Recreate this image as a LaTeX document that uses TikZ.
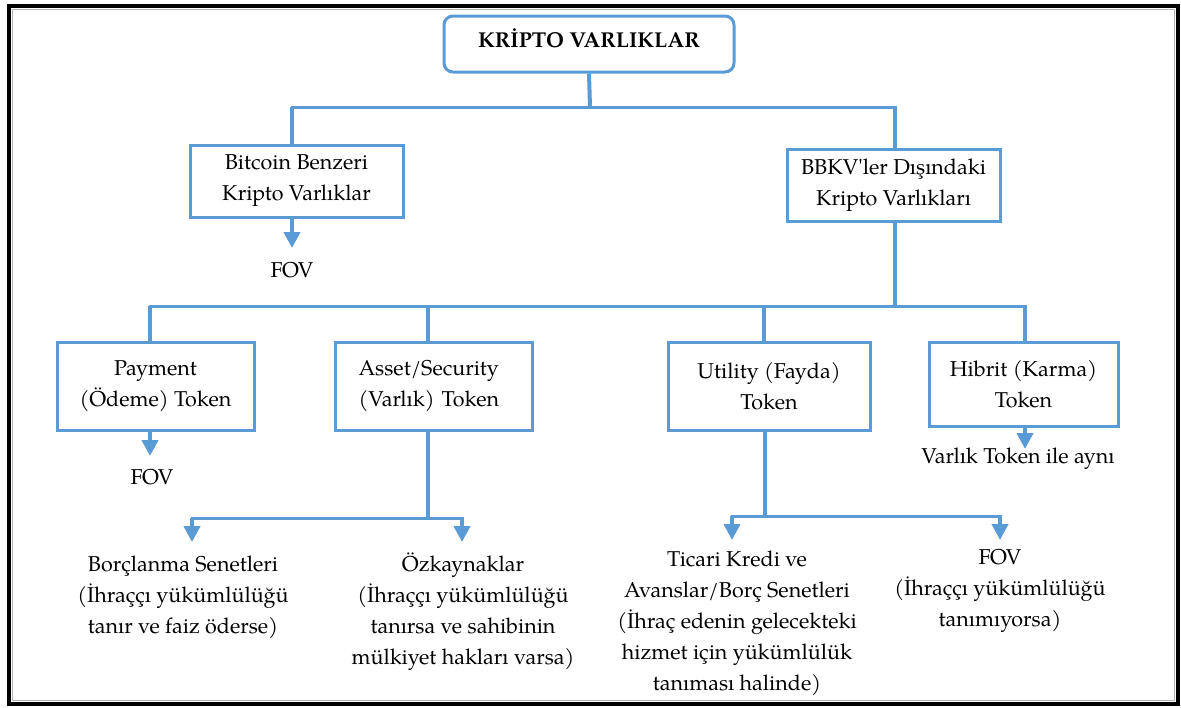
\documentclass[tikz,border=0pt]{standalone}
\usepackage{fontspec}
\setmainfont{TeX Gyre Pagella}
\newfontfamily\plainfont{TeX Gyre Pagella}
\usetikzlibrary{arrows.meta,calc}
\definecolor{boxblue}{HTML}{5B9BD5}
\newcommand\diagfont{\fontsize{21.5}{31}\selectfont}
\newcommand\headfont{\bfseries\fontsize{21.5}{24}\selectfont}
\begin{document}
\begin{tikzpicture}[x=1pt,y=-1pt,
  box/.style={draw=boxblue,line width=3pt,fill=white,inner sep=0pt,align=center,font=\diagfont},
  headbox/.style={draw=boxblue,line width=3pt,rounded corners=9pt,fill=white,inner ysep=0pt,
    text height=31pt,text depth=25pt,minimum width=290pt,font=\headfont},
  txt/.style={inner sep=0pt,align=center,font=\diagfont},
  hbar/.style={draw=boxblue,line width=3pt,line cap=rect},
  vbar/.style={draw=boxblue,line width=4pt},
  arr/.style={vbar,-{Triangle[width=16pt,length=16pt]}}]
\useasboundingbox (0,0) rectangle (1181,707);
% outer frame
\draw[line width=3.5pt] (9,6) rectangle (1178,704);
\draw[black!30,line width=0.8pt] (12.5,9.5) rectangle (1174.5,700.5);

% boxes
\node[headbox] (root) at (589,44) {KRİPTO VARLIKLAR};
\node[box,minimum width=213pt,minimum height=72pt] (btc) at (296.5,181) {Bitcoin Benzeri\\Kripto Varlıklar};
\node[box,minimum width=213pt,minimum height=72pt] (bbkv) at (893.5,185) {BBKV{\plainfont'}ler Dışındaki\\Kripto Varlıkları};
\node[box,minimum width=197pt,minimum height=88pt] (pay) at (155.5,386) {Payment\\(Ödeme) Token};
\node[box,minimum width=197pt,minimum height=88pt,align=left,text width=150pt] (ast) at (433.5,386) {Asset/Security\\(Varlık) Token};
\node[box,minimum width=202pt,minimum height=88pt] (utl) at (769,386) {Utility (Fayda)\\Token};
\node[box,minimum width=189pt,minimum height=84pt] (hib) at (1023.5,384) {Hibrit (Karma)\\Token};

% junctions and arrow ends
\coordinate (b1) at (590,107);
\coordinate (b2) at (895,306);
\coordinate (j1) at (428,518);
\coordinate (j2) at (765,516);
\coordinate (t1) at (292,248);
\coordinate (t2) at (150,456);
\coordinate (t3) at (1025,449);
\coordinate (t4) at (192,542);
\coordinate (t5) at (462,542);
\coordinate (t6) at (732,540);
\coordinate (t7) at (1000,540);

% first level
\draw[vbar] (root.south) -- (b1);
\draw[hbar] ([xshift=-4.5pt]btc.north |- b1) -- ([xshift=1.5pt]bbkv.north |- b1);
\draw[vbar] ([xshift=-4.5pt]btc.north |- b1) -- ([xshift=-4.5pt]btc.north);
\draw[vbar] ([xshift=1.5pt]bbkv.north |- b1) -- ([xshift=1.5pt]bbkv.north);
\draw[arr] ([xshift=-4.5pt]btc.south) -- (t1);

% second level
\draw[vbar] ([xshift=1.5pt]bbkv.south) -- (b2);
\draw[hbar] ([xshift=-5.5pt]pay.north |- b2) -- ([xshift=1.5pt]hib.north |- b2);
\draw[vbar] ([xshift=-5.5pt]pay.north |- b2) -- ([xshift=-5.5pt]pay.north);
\draw[vbar] ([xshift=-5.5pt]ast.north |- b2) -- ([xshift=-5.5pt]ast.north);
\draw[vbar] ([xshift=-5pt]utl.north |- b2) -- ([xshift=-5pt]utl.north);
\draw[vbar] ([xshift=1.5pt]hib.north |- b2) -- ([xshift=1.5pt]hib.north);
\draw[arr] ([xshift=-5.5pt]pay.south) -- (t2);
\draw[arr] ([xshift=1.5pt]hib.south) -- (t3);

% asset split
\draw[vbar] ([xshift=-5.5pt]ast.south) -- (j1);
\draw[hbar] (t4 |- j1) -- (t5 |- j1);
\draw[arr] (t4 |- j1) -- (t4);
\draw[arr] (t5 |- j1) -- (t5);

% utility split
\draw[vbar] ([xshift=-4pt]utl.south) -- (j2);
\draw[hbar] (t6 |- j2) -- (t7 |- j2);
\draw[arr] (t6 |- j2) -- (t6);
\draw[arr] (t7 |- j2) -- (t7);

% leaf texts
\node[txt] (fov1) at (292,270) {FOV};
\node[txt] (fov2) at (152,477) {FOV};
\node[txt] (same) at (1018,459) {Varlık Token ile aynı};
\node[txt] (bor) at (183,597) {Borçlanma Senetleri\\(İhraççı yükümlülüğü\\tanır ve faiz öderse)};
\node[txt] (ozk) at (463,612) {Özkaynaklar\\(İhraççı yükümlülüğü\\tanırsa ve sahibinin\\mülkiyet hakları varsa)};
\node[txt] (tic) at (737,623) {Ticari Kredi ve\\Avanslar/Borç Senetleri\\(İhraç edenin gelecekteki\\hizmet için yükümlülük\\tanıması halinde)};
\node[txt] (fov3) at (1000,591) {FOV\\(İhraççı yükümlülüğü\\tanımıyorsa)};
\end{tikzpicture}
\end{document}
